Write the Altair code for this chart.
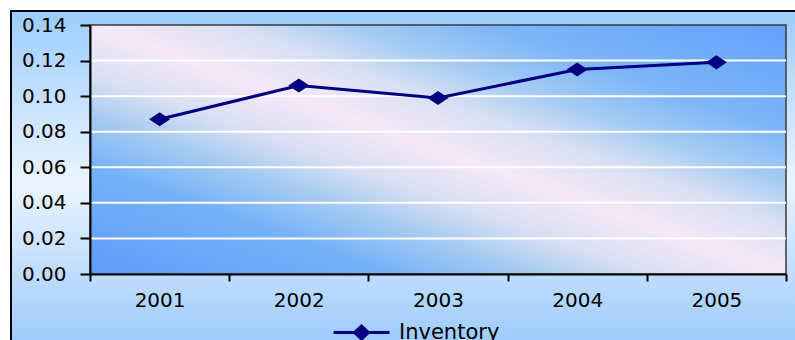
import altair as alt
import pandas as pd

# Inventory series by year
years = ["2001", "2002", "2003", "2004", "2005"]
inventory = [0.087, 0.106, 0.099, 0.115, 0.119]
series_name = "Inventory"

# Axis ticks and interior gridlines
y_ticks = [0.00, 0.02, 0.04, 0.06, 0.08, 0.10, 0.12, 0.14]
grid_values = [0.02, 0.04, 0.06, 0.08, 0.10, 0.12]

W, H = 696, 249
NAVY = "#000080"
FONT = "DejaVu Sans"

df = pd.DataFrame({"year": years, "value": inventory, "series": [series_name] * len(years)})
grid_df = pd.DataFrame({"value": grid_values})

y_scale = alt.Scale(domain=[0, 0.14], nice=False, zero=True)
x_scale = alt.Scale(type="band", paddingInner=0, paddingOuter=0)

y_axis = alt.Axis(
    values=y_ticks, format=".2f", tickSize=10, tickWidth=2, tickColor="black",
    domainColor="black", domainWidth=2, labelFont=FONT, labelFontSize=20,
    labelColor="black", labelPadding=14, grid=False, zindex=2,
)

# Outer chart-area panel with a soft vertical gradient and black frame
outer = alt.Chart(alt.Data(values=[{}])).mark_rect(
    fill=alt.Gradient(
        gradient="linear", x1=0, y1=0, x2=0, y2=1,
        stops=[
            alt.GradientStop(offset=0, color="#9ccdfd"),
            alt.GradientStop(offset=0.5, color="#eaf4ff"),
            alt.GradientStop(offset=1, color="#98c8fc"),
        ],
    ),
    stroke="black", strokeWidth=2,
).encode(x=alt.value(-79), x2=alt.value(760), y=alt.value(-14), y2=alt.value(330))

# Plot-area fill: diagonal blue / pink-white gradient
plot_bg = alt.Chart(alt.Data(values=[{}])).mark_rect(
    fill=alt.Gradient(
        gradient="linear", x1=0, y1=1, x2=1, y2=0,
        stops=[
            alt.GradientStop(offset=0.0, color="#5f9cfa"),
            alt.GradientStop(offset=0.22, color="#76b2f8"),
            alt.GradientStop(offset=0.32, color="#a6cbf1"),
            alt.GradientStop(offset=0.40, color="#d8dff3"),
            alt.GradientStop(offset=0.50, color="#f6e8f8"),
            alt.GradientStop(offset=0.60, color="#d8e0f3"),
            alt.GradientStop(offset=0.68, color="#a6ccf3"),
            alt.GradientStop(offset=0.78, color="#7eb6f8"),
            alt.GradientStop(offset=1.0, color="#62a0fd"),
        ],
    ),
    stroke="#3a3a3a", strokeWidth=1.5,
).encode(x=alt.value(0), x2=alt.value(W), y=alt.value(0), y2=alt.value(H))

# White horizontal gridlines
grid = alt.Chart(grid_df).mark_rule(color="white", strokeWidth=2).encode(
    y=alt.Y("value:Q", scale=y_scale, title=None, axis=y_axis)
)

diamond = "M-1,0L0,-0.67L1,0L0,0.67Z"
legend_symbol = "M-2.8,0L2.8,0M0,-0.65L0.7,0L0,0.65L-0.7,0Z"

line = alt.Chart(df).mark_line(
    strokeWidth=3,
    point=alt.OverlayMarkDef(shape=diamond, size=441, filled=True, opacity=1),
).encode(
    x=alt.X(
        "year:O", scale=x_scale, bandPosition=0.5, title=None,
        axis=alt.Axis(
            labelAngle=0, tickBand="extent", tickSize=7, tickWidth=2, tickColor="black",
            domainColor="black", domainWidth=2, labelFont=FONT, labelFontSize=20,
            labelColor="black", labelPadding=9, grid=False, zindex=2,
        ),
    ),
    y=alt.Y("value:Q", scale=y_scale, title=None, axis=y_axis),
    color=alt.Color(
        "series:N", scale=alt.Scale(range=[NAVY]), title=None,
        legend=alt.Legend(
            orient="none", legendX=260, legendY=296, padding=0,
            symbolType=legend_symbol, symbolSize=400, symbolStrokeWidth=3,
            symbolFillColor=NAVY, symbolStrokeColor=NAVY, labelOffset=26,
            labelFont=FONT, labelFontSize=21, labelColor="black",
        ),
    ),
)

chart = alt.layer(outer, plot_bg, grid, line).properties(
    width=W, height=H,
    autosize=alt.AutoSizeParams(type="none"),
    padding={"left": 90, "top": 25, "right": 9, "bottom": 66},
    background="white",
).configure_view(stroke=None)

chart.save("out.html", embed_options={"renderer": "svg", "actions": False})
